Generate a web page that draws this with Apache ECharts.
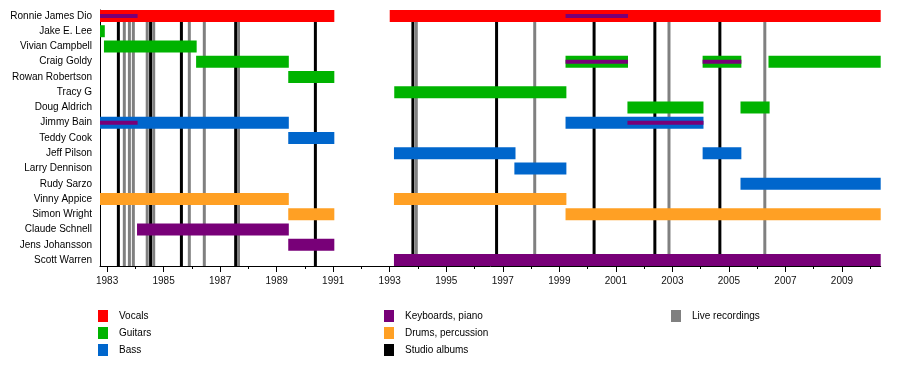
<!DOCTYPE html>
<html>
<head>
<meta charset="utf-8">
<script src="https://cdn.jsdelivr.net/npm/echarts@6/dist/echarts.min.js"></script>
<style>
  html, body { margin: 0; padding: 0; background: #fff; }
  #chart { width: 900px; height: 386px; }
</style>
</head>
<body>
<div id="chart"></div>
<script>
// band members, top to bottom
const members = ['Ronnie James Dio', 'Jake E. Lee', 'Vivian Campbell', 'Craig Goldy', 'Rowan Robertson',
  'Tracy G', 'Doug Aldrich', 'Jimmy Bain', 'Teddy Cook', 'Jeff Pilson', 'Larry Dennison', 'Rudy Sarzo',
  'Vinny Appice', 'Simon Wright', 'Claude Schnell', 'Jens Johansson', 'Scott Warren'];

// [row, from, till] in decimal years
const vocals = [[0, 1982.75, 1991.04], [0, 1993.0, 2010.37]];
const guitars = [[1, 1982.75, 1982.92], [2, 1982.89, 1986.17], [3, 1986.15, 1989.43], [3, 1999.22, 2001.43],
  [3, 2004.07, 2005.44], [3, 2006.40, 2010.37], [4, 1989.41, 1991.04], [5, 1993.16, 1999.25],
  [6, 2001.41, 2004.10], [6, 2005.41, 2006.44]];
const bass = [[7, 1982.75, 1989.43], [7, 1999.22, 2004.10], [8, 1989.41, 1991.04], [9, 1993.15, 1997.45],
  [9, 2004.07, 2005.44], [10, 1997.41, 1999.25], [11, 2005.41, 2010.37]];
const keyboards = [[14, 1984.06, 1989.43], [15, 1989.41, 1991.04], [16, 1993.15, 2010.37]];
// thin keyboard bars laid over other roles
const keyboardsExtra = [[0, 1982.75, 1984.08], [0, 1999.22, 2001.43], [3, 1999.22, 2001.43],
  [3, 2004.07, 2005.44], [7, 1982.75, 1984.08], [7, 2001.41, 2004.10]];
const drums = [[12, 1982.75, 1989.43], [12, 1993.15, 1999.25], [13, 1989.41, 1991.04], [13, 1999.22, 2010.37]];

const studioAlbums = [1983.40, 1984.54, 1985.63, 1987.55, 1990.37, 1993.82, 1996.78, 2000.23, 2002.38, 2004.68];
const liveRecordings = [1983.61, 1983.79, 1983.93, 1984.42, 1984.65, 1985.91, 1986.44, 1987.65,
  1993.94, 1998.13, 2002.88, 2006.27];

const majorYears = [1983, 1985, 1987, 1989, 1991, 1993, 1995, 1997, 1999, 2001, 2003, 2005, 2007, 2009];
const minorYears = [];
for (let y = 1983; y <= 2010; y++) minorYears.push(y);

const yMin = -0.39, yMax = members.length - 1 + 0.39;
const font = '"Liberation Sans", Arial, sans-serif';

function barRender(h) {
  return function (params, api) {
    const a = api.coord([api.value(1), api.value(0)]);
    const b = api.coord([api.value(2), api.value(0)]);
    return {
      type: 'rect',
      shape: { x: a[0], y: a[1] - h / 2, width: b[0] - a[0], height: h },
      style: { fill: api.visual('color') }
    };
  };
}

function lineRender(params, api) {
  const a = api.coord([api.value(0), yMin]);
  const b = api.coord([api.value(0), yMax]);
  return {
    type: 'line',
    shape: { x1: a[0], y1: a[1], x2: b[0], y2: b[1] },
    style: { stroke: api.visual('color'), lineWidth: 3 }
  };
}

function barSeries(name, color, data, h, z) {
  return {
    type: 'custom', name: name, renderItem: barRender(h), z: z,
    itemStyle: { color: color },
    encode: { x: [1, 2], y: 0 },
    data: data
  };
}

function lineSeries(name, color, data) {
  return {
    type: 'custom', name: name, renderItem: lineRender, z: 1,
    itemStyle: { color: color },
    encode: { x: 0, y: 1 },
    data: data.map(v => [v, 0])
  };
}

function legendBlock(left, names, colors) {
  return {
    orient: 'vertical', left: left, top: 310, padding: 0,
    itemWidth: 10, itemHeight: 12, itemGap: 5, icon: 'rect', selectedMode: false,
    textStyle: { fontSize: 10, color: '#000', fontFamily: font, padding: [0, 0, 0, 6] },
    data: names.map((n, i) => ({ name: n, itemStyle: { color: colors[i] } }))
  };
}

const chart = echarts.init(document.getElementById('chart'));
chart.setOption({
  animation: false,
  grid: { left: 100, top: 10, width: 780.7, height: 256 },
  legend: [
    legendBlock(98, ['Vocals', 'Guitars', 'Bass'], ['#ff0000', '#00b300', '#0066cc']),
    legendBlock(384, ['Keyboards, piano', 'Drums, percussion', 'Studio albums'], ['#780078', '#ffa024', '#000000']),
    legendBlock(671, ['Live recordings'], ['#808080'])
  ],
  xAxis: [
    {
      type: 'value', min: 1982.75, max: 2010.37, position: 'bottom',
      axisLine: { onZero: false, lineStyle: { color: '#000', width: 1 } },
      axisTick: { customValues: majorYears, length: 6, lineStyle: { color: '#000' } },
      axisLabel: {
        customValues: majorYears, margin: 10, fontSize: 10, color: '#111', fontFamily: font,
        formatter: v => String(v)
      },
      splitLine: { show: false }
    },
    {
      type: 'value', min: 1982.75, max: 2010.37, position: 'bottom',
      axisLine: { show: false, onZero: false },
      axisTick: { customValues: minorYears, length: 3, lineStyle: { color: '#000' } },
      axisLabel: { show: false },
      splitLine: { show: false }
    }
  ],
  yAxis: {
    type: 'value', inverse: true, min: yMin, max: yMax,
    axisLine: { show: true, onZero: false, lineStyle: { color: '#000', width: 1 } },
    axisTick: { show: false },
    axisLabel: {
      customValues: members.map((m, i) => i), margin: 8, fontSize: 10, color: '#000', fontFamily: font,
      formatter: v => members[Math.round(v)]
    },
    splitLine: { show: false }
  },
  series: [
    lineSeries('Studio albums', '#000000', studioAlbums),
    lineSeries('Live recordings', '#808080', liveRecordings),
    barSeries('Vocals', '#ff0000', vocals, 12, 2),
    barSeries('Guitars', '#00b300', guitars, 12, 2),
    barSeries('Bass', '#0066cc', bass, 12, 2),
    barSeries('Keyboards, piano', '#780078', keyboards, 12, 2),
    barSeries('Drums, percussion', '#ffa024', drums, 12, 2),
    barSeries('Keyboards, piano', '#780078', keyboardsExtra, 4, 3)
  ]
});
window.addEventListener('resize', () => chart.resize());
</script>
</body>
</html>
